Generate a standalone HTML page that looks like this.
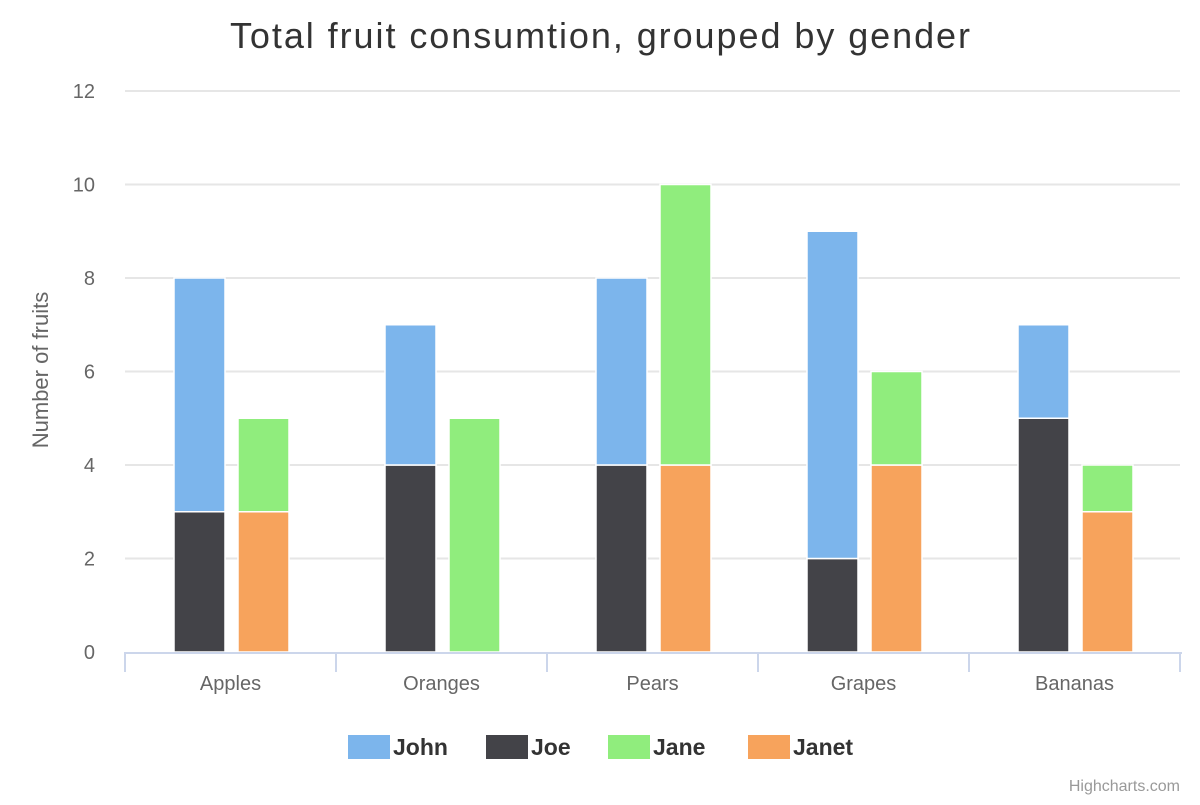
<!DOCTYPE html>
<html><head><meta charset="utf-8"><style>
body{margin:0;background:#fff;font-family:"Liberation Sans","DejaVu Sans",sans-serif}
</style></head><body>
<svg id="chart" width="1200" height="800" xmlns="http://www.w3.org/2000/svg" font-family="Liberation Sans, DejaVu Sans, sans-serif">
<rect width="1200" height="800" fill="#fff"/>
<text x="600" y="48" text-anchor="middle" font-size="36" fill="#333" textLength="740">Total fruit consumtion, grouped by gender</text>
<g id="grid"></g><g id="bars"></g><g id="axes"></g><g id="legend"></g>
<text transform="translate(48,370) rotate(-90)" text-anchor="middle" font-size="22" fill="#666">Number of fruits</text>
<text x="1180" y="791" text-anchor="end" font-size="16" fill="#999">Highcharts.com</text>
</svg>
<script>
const categories=["Apples","Oranges","Pears","Grapes","Bananas"];
const john=[5,3,4,7,2];
const joe=[3,4,4,2,5];
const jane=[2,5,6,2,1];
const janet=[3,0,4,4,3];
const yTicks=[0,2,4,6,8,10,12];
const NS="http://www.w3.org/2000/svg";
const L=125,R=1180,Y0=652,Ytop=91,yMax=12;
const y=v=>Y0-(Y0-Ytop)*v/yMax;
const cw=(R-L)/categories.length;
const cx=i=>L+cw*(i+0.5);
function mk(t,a,p){const e=document.createElementNS(NS,t);for(const k in a)e.setAttribute(k,a[k]);p.appendChild(e);return e;}
const grid=document.getElementById('grid'),bars=document.getElementById('bars'),axes=document.getElementById('axes'),leg=document.getElementById('legend');
yTicks.forEach(v=>{
 if(v>0){const g=mk('line',{x1:L,x2:R,y1:y(v),y2:y(v),stroke:'#e6e6e6','stroke-width':2},grid);
 
 }
 const t=mk('text',{x:95,y:y(v)+7,'text-anchor':'end','font-size':20,fill:'#666'},axes);t.textContent=v;
 
 
});
const al=mk('line',{x1:L,x2:R+2,y1:Y0+1,y2:Y0+1,stroke:'#ccd6eb','stroke-width':2},axes);


for(let i=0;i<=categories.length;i++){const tk=mk('line',{x1:L+cw*i,x2:L+cw*i,y1:Y0,y2:Y0+20,stroke:'#ccd6eb','stroke-width':2},axes);
 
 }
categories.forEach((c,i)=>{const t=mk('text',{x:cx(i),y:Y0+38,'text-anchor':'middle','font-size':20,fill:'#666'},axes);t.textContent=c;
 
 });
const series=[{n:'John',d:john,c:'#7cb5ec',s:0},{n:'Joe',d:joe,c:'#434348',s:0},{n:'Jane',d:jane,c:'#90ed7d',s:1},{n:'Janet',d:janet,c:'#f7a35c',s:1}];
const bw=51,off=[-31,33];
categories.forEach((c,i)=>{
 const base=[0,0];
 [...series].reverse().forEach(s=>{
  const v=s.d[i];if(!v)return;
  const b0=base[s.s],b1=b0+v;base[s.s]=b1;
  const r=mk('rect',{x:cx(i)+off[s.s]-bw/2,y:y(b1),width:bw,height:y(b0)-y(b1),fill:s.c,stroke:'#fff','stroke-width':1.5},bars);
  
  
 });
});
const lx=[348,486,608,748];
series.forEach((s,i)=>{
 const g=mk('g',{},leg);
 
 
 mk('rect',{x:lx[i],y:735,width:42,height:24,fill:s.c},g);
 const t=mk('text',{x:lx[i]+45,y:755,'font-size':23,'font-weight':'bold',fill:'#333'},g);t.textContent=s.n;
});
</script>
</body></html>
